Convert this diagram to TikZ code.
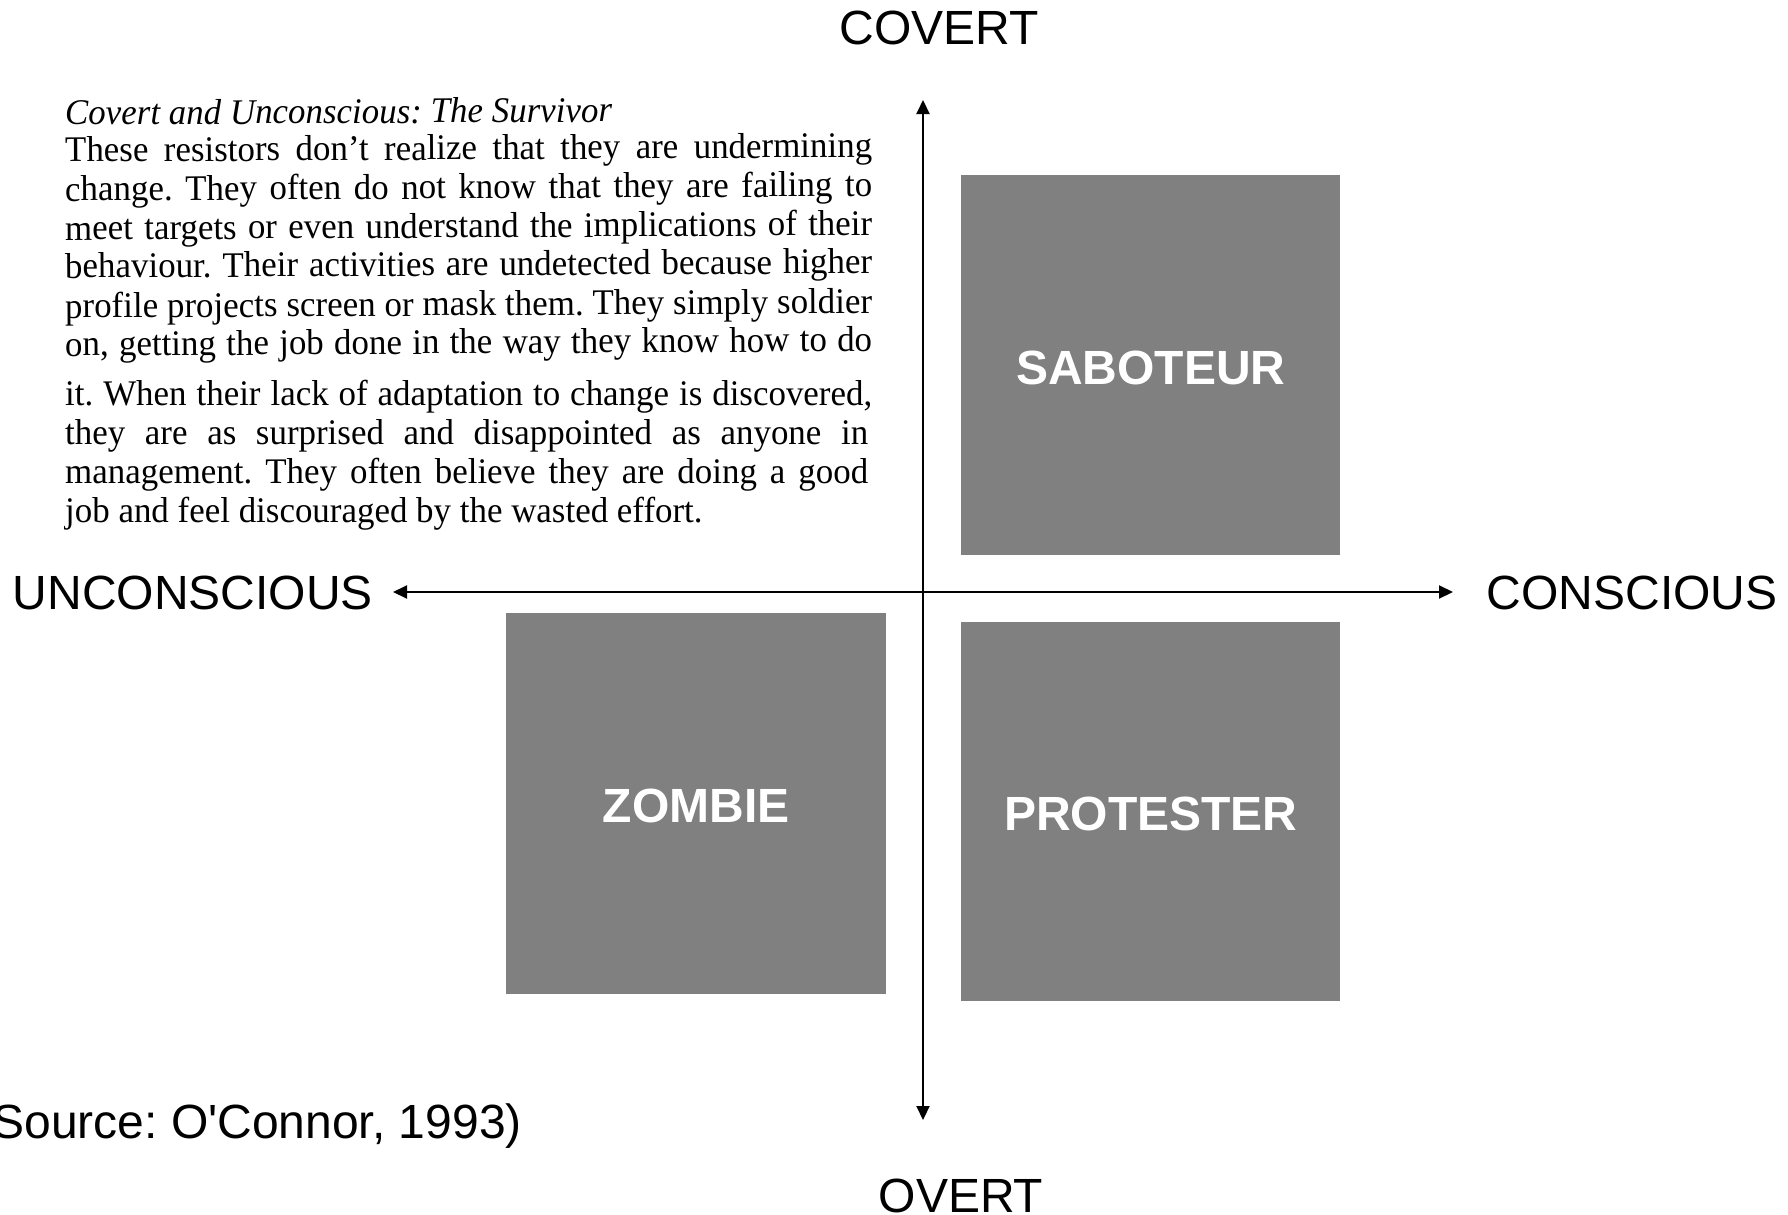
\documentclass[tikz,border=0pt]{standalone}
\usepackage{fontspec}
\setmainfont{Liberation Sans}
\newfontfamily\scanfont[FakeStretch=0.97]{Liberation Serif}
\usetikzlibrary{arrows.meta}
\definecolor{boxgray}{RGB}{128,128,128}
\newcommand\plainquote{\XeTeXglyph\XeTeXcharglyph"27\relax}
\newcommand\quadtext[1]{\raisebox{-2.3pt}[\height][\depth]{#1}}
\frenchspacing
\begin{document}
\frenchspacing
\begin{tikzpicture}[x=1pt,y=-1pt,
  quad/.style={fill=boxgray,draw=none,inner sep=0pt,anchor=north west,
    text=white,font=\fontsize{48}{56}\selectfont\bfseries},
  axislabel/.style={inner sep=0pt,font=\fontsize{48}{56}\selectfont},
  axis/.style={line width=2pt,{Triangle[length=14pt,width=13pt]}-{Triangle[length=14pt,width=13pt]}},
  scanline/.style={inner sep=0pt,anchor=base west,font=\scanfont\fontsize{36}{40}\selectfont},
  tilted/.style={scanline,rotate=0.33}]
% canvas
\path[fill=white,use as bounding box] (0,0) rectangle (1788,1215);

% quadrant boxes
\node[quad,minimum width=379pt,minimum height=380pt] (sab) at (961,175) {\quadtext{SABOTEUR}};
\node[quad,minimum width=380pt,minimum height=381pt] (zom) at (506,613) {\quadtext{ZOMBIE}};
\node[quad,minimum width=379pt,minimum height=379pt] (pro) at (961,622) {\quadtext{PROTESTER}};

% axes
\coordinate (top) at (923,100);
\coordinate (bottom) at (923,1120);
\coordinate (left) at (393,592);
\coordinate (right) at (1453,592);
\draw[axis] (bottom) -- (top);
\draw[axis] (left) -- (right);

% axis labels
\node[axislabel,anchor=base] (covert) at (939,45) {COVERT};
\node[axislabel,anchor=base] (overt) at (961,1212.5) {OVERT};
\node[axislabel,anchor=base east] (uncon) at (373,609) {UNCONSCIOUS};
\node[axislabel,anchor=base west] (con) at (1486.5,609) {CONSCIOUS};
\node[axislabel,anchor=base east] (src) at (522,1138) {(Source: O\plainquote Connor, 1993)};

% quoted description
\node[tilted] (t0) at (65,125) {\itshape Covert and Unconscious: The Survivor};
\node[tilted] (t1) at (65,162) {\makebox[807pt][s]{These resistors don’t realize that they are undermining}};
\node[tilted] (t2) at (65,201) {\makebox[807pt][s]{change. They often do not know that they are failing to}};
\node[tilted] (t3) at (65,240) {\makebox[807pt][s]{meet targets or even understand the implications of their}};
\node[tilted] (t4) at (65,278) {\makebox[807pt][s]{behaviour. Their activities are undetected because higher}};
\node[tilted] (t5) at (65,318) {\makebox[807pt][s]{profile projects screen or mask them. They simply soldier}};
\node[tilted] (t6) at (65,356) {\makebox[807pt][s]{on, getting the job done in the way they know how to do}};
\node[scanline] (t7) at (65,405) {\makebox[807pt][s]{it. When their lack of adaptation to change is discovered,}};
\node[scanline] (t8) at (65,444) {\makebox[803pt][s]{they are as surprised and disappointed as anyone in}};
\node[scanline] (t9) at (65,483) {\makebox[803pt][s]{management. They often believe they are doing a good}};
\node[scanline] (t10) at (65,522) {job and feel discouraged by the wasted effort.};
\end{tikzpicture}
\end{document}
